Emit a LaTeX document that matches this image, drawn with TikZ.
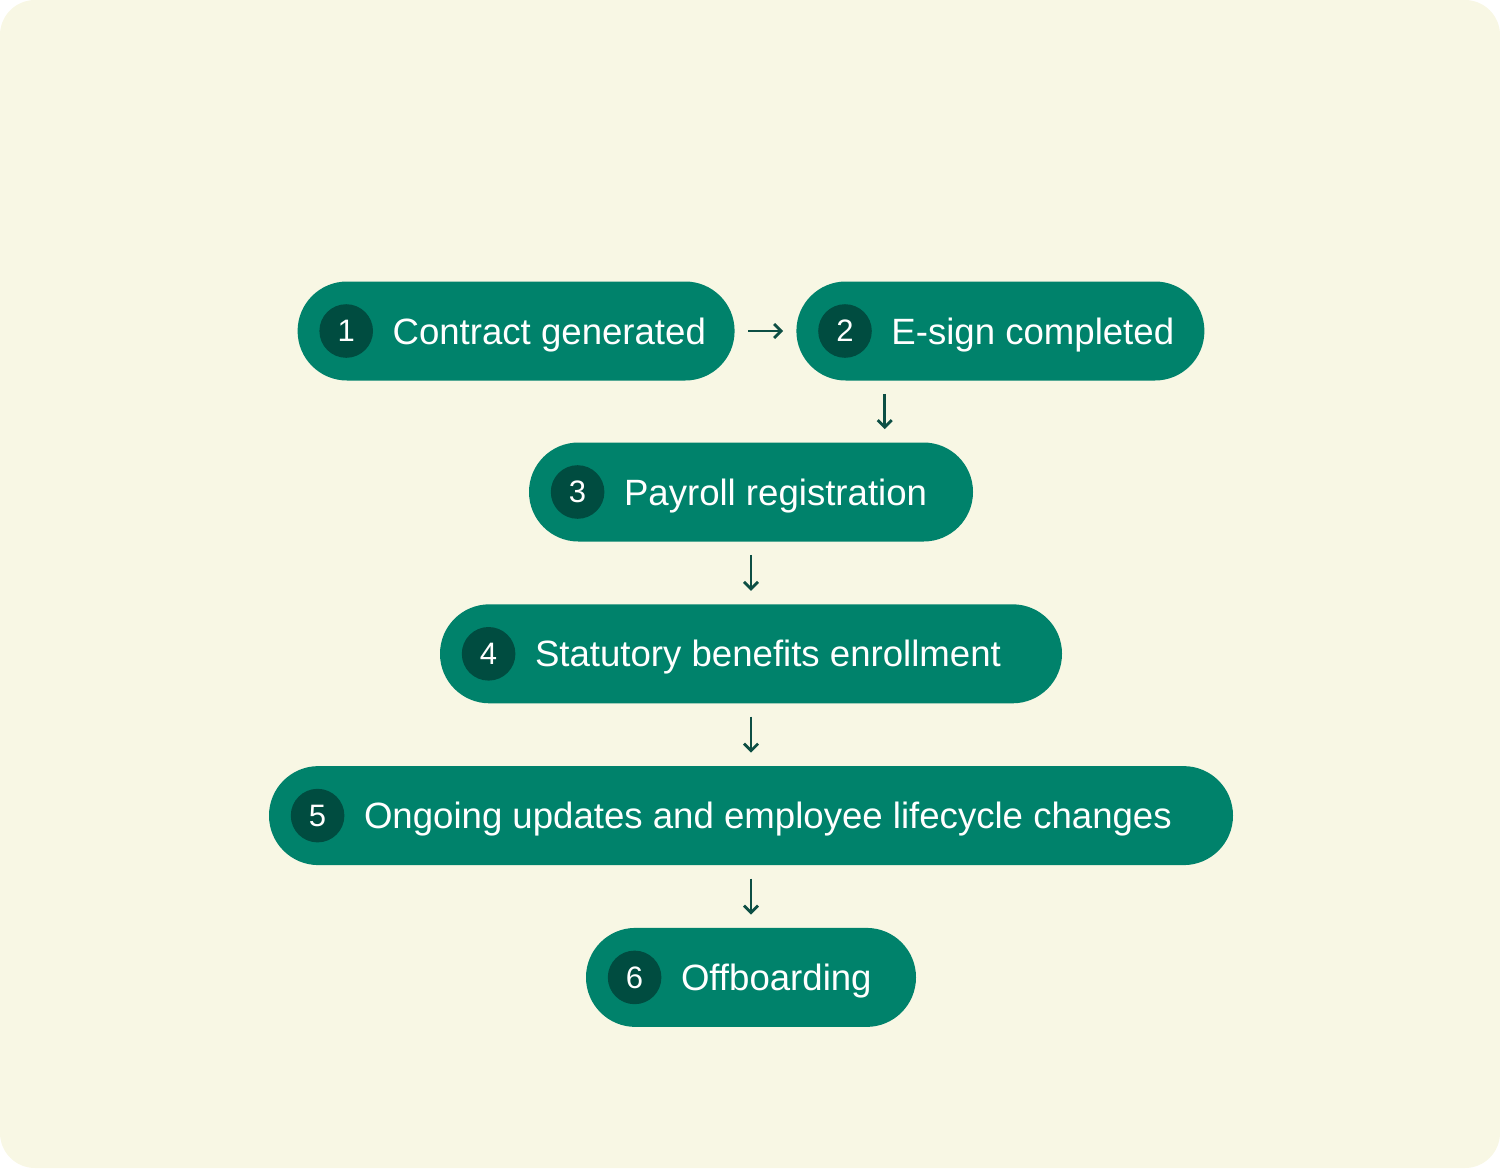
\documentclass[tikz,border=0pt]{standalone}
\usepackage{fontspec}
\setmainfont{Liberation Sans}
\usetikzlibrary{positioning,arrows.meta,calc}
\definecolor{cream}{HTML}{F8F7E4}
\definecolor{pillgreen}{HTML}{00826B}
\definecolor{numdark}{HTML}{004C40}
\definecolor{arrowdark}{HTML}{0D4F44}
\newcommand{\stagetext}[2]{\makebox[#1][l]{\hspace*{29pt}#2}}

\begin{document}
\begin{tikzpicture}[x=0.5pt,y=-0.5pt,
  pill/.style={fill=pillgreen, rounded corners=24.7pt, minimum height=49.5pt,
    inner xsep=18.5pt, inner ysep=0pt, text=white,
    text height=13.1pt, text depth=0pt, font=\fontsize{18.3}{22}\selectfont},
  num/.style={circle, fill=numdark, minimum size=26.8pt, inner sep=0pt, text=white,
    font=\fontsize{15.5}{18}\selectfont},
  flow/.style={-{Straight Barb[length=3.5pt,width=7pt]}, draw=arrowdark,
    line width=1.4pt, shorten <=6.5pt, shorten >=6.5pt}]

  \fill[cream, rounded corners=17.5pt] (0,0) rectangle (1500,1168);
  \useasboundingbox (0,0) rectangle (1500,1168);

  %% -- stages
  \node[pill] (p1) [anchor=east] at (735,331) {\stagetext{181.5pt}{Contract generated}};
  \node[pill] (p2) [right=30.5pt of p1] {\stagetext{167pt}{E-sign completed}};
  \node[pill] (p3) at (751,492) {\stagetext{185pt}{Payroll registration}};
  \node[pill] (p4) [below=31pt of p3] {\stagetext{274pt}{Statutory benefits enrollment}};
  \node[pill] (p5) [below=31pt of p4] {\stagetext{445pt}{Ongoing updates and employee lifecycle changes}};
  \node[pill] (p6) [below=31pt of p5] {\stagetext{128pt}{Offboarding}};

  %% -- numbers
  \node[num] (n1) at ([xshift=24.5pt]p1.west) {1};
  \node[num] (n2) at ([xshift=24.5pt]p2.west) {2};
  \node[num] (n3) at ([xshift=24.5pt]p3.west) {3};
  \node[num] (n4) at ([xshift=24.5pt]p4.west) {4};
  \node[num] (n5) at ([xshift=24.5pt]p5.west) {5};
  \node[num] (n6) at ([xshift=24.5pt]p6.west) {6};

  %% -- edges
  \coordinate (m23) at ($(p2.south west)!.5!(p3.north east)$);
  \draw[flow] (p1) -- (p2);
  \draw[flow] (p2.south -| m23) -- (p3.north -| m23);
  \draw[flow] (p3) -- (p4);
  \draw[flow] (p4) -- (p5);
  \draw[flow] (p5) -- (p6);

\end{tikzpicture}
\end{document}
